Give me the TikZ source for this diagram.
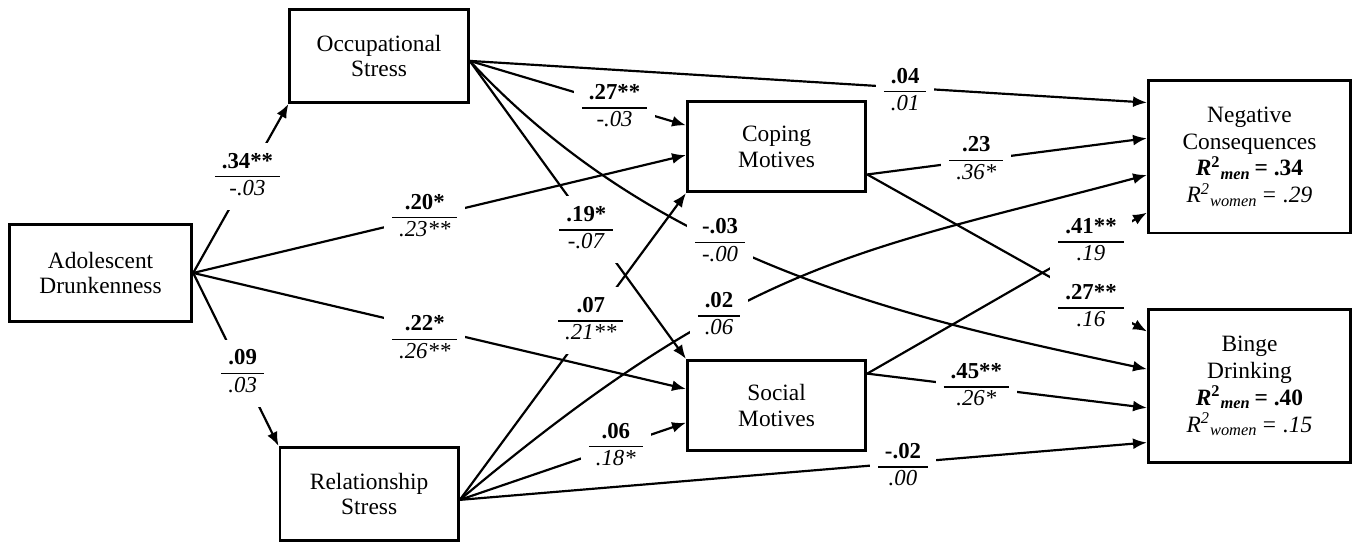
\documentclass[tikz,border=0pt]{standalone}
\usepackage{fontspec}
\setmainfont{Liberation Serif}
\usetikzlibrary{positioning,arrows.meta}
\setlength{\arrayrulewidth}{0.75pt}
\tikzstyle{var}=[draw,rectangle,line width=1.4pt,minimum width=90pt,minimum height=47pt,
  align=center,font=\fontsize{11.8}{13}\selectfont]
\tikzstyle{outcome}=[var,minimum width=102pt,minimum height=77pt,font=\fontsize{11.8}{13.5}\selectfont]
\tikzstyle{coef}=[fill=white,inner xsep=4pt,inner ysep=3.5pt,font=\fontsize{11.5}{13}\selectfont]
\newcommand{\coef}[2]{\begin{tabular}{@{\hspace{3.5pt}}c@{\hspace{3.5pt}}}\textbf{#1}\\\hline\textit{#2}\end{tabular}}
\newcommand{\newVar}[4]{\node[#3](#1)[#4]{#2};}
\newcommand{\newPath}[6]{\draw[->] (#1) to[#6] node[coef,#5] {\coef{#3}{#4}} (#2);}
\newcommand{\rsq}[2]{\textit{R}\textsuperscript{2}\textsubscript{\textit{#1}}\,= #2}

\begin{document}
\begin{tikzpicture}[>={Latex[length=7pt,width=5.5pt]},
    line width=1.1pt
    ]
    % variables
    \newVar{AD}{Adolescent\\Drunkenness}{var,minimum width=92pt,minimum height=49pt}{}
    \newVar{OS}{Occupational\\Stress}{var}{above right=60pt and 48pt of AD}
    \newVar{RS}{Relationship\\Stress}{var}{below right=62pt and 43pt of AD}
    \newVar{CM}{Coping\\Motives}{var,minimum height=45.5pt}{right=109pt of OS,yshift=-45.75pt}
    \newVar{SM}{Social\\Motives}{var,minimum height=45.5pt}{below=83.5pt of CM}
    \newVar{NC}{Negative\\Consequences\\\textbf{\rsq{men}{.34}}\\\textit{\rsq{women}{.29}}}{outcome}{right=141pt of CM,yshift=-5pt}
    \newVar{BD}{Binge\\Drinking\\\textbf{\rsq{men}{.40}}\\\textit{\rsq{women}{.15}}}{outcome}{below=37.25pt of NC}
    % paths from adolescent drunkenness
    \newPath{AD.east}{OS.south west}{.34**}{-.03}{pos=.57}{}
    \newPath{AD.east}{[yshift=-4.25pt]CM.west}{.20*}{.23**}{pos=.47}{}
    \newPath{AD.east}{[yshift=8.25pt]SM.west}{.22*}{.26**}{pos=.47,yshift=-6pt}{}
    \newPath{AD.east}{RS.north west}{.09}{.03}{pos=.58}{}
    % paths from occupational stress
    \newPath{[yshift=-2.5pt]OS.east}{[yshift=10.75pt]CM.west}{.27**}{-.03}{pos=.67,yshift=-2pt}{}
    \newPath{[yshift=-2.5pt]OS.east}{[yshift=27.25pt]NC.west}{.04}{.01}{pos=.643,yshift=-2pt}{}
    \newPath{[yshift=-2.5pt]OS.east}{SM.north west}{.19*}{-.07}{pos=.567,xshift=-3pt}{}
    \newPath{[yshift=-2.5pt]OS.east}{[yshift=8.5pt]BD.west}{-.03}{-.00}{pos=.4}{out=-47,in=168,out distance=140pt,in distance=125pt}
    % paths from relationship stress
    \newPath{[yshift=-3pt]RS.east}{CM.south west}{.07}{.21**}{pos=.597,xshift=-2pt,yshift=-2pt}{}
    \newPath{[yshift=-3pt]RS.east}{[yshift=-8.75pt]SM.west}{.06}{.18*}{pos=.69}{}
    \newPath{[yshift=-3pt]RS.east}{[yshift=-9.25pt]NC.west}{.02}{.06}{pos=.36}{out=40,in=-165,out distance=190pt,in distance=150pt}
    \newPath{[yshift=-3pt]RS.east}{[yshift=-28.5pt]BD.west}{-.02}{.00}{pos=.645,yshift=-2pt}{}
    % paths from motives
    \newPath{[yshift=16pt]SM.east}{[yshift=-28.25pt]NC.west}{.41**}{.19}{pos=.80,yshift=1.5pt}{}
    \newPath{[yshift=-14pt]CM.east}{[yshift=9.25pt]NC.west}{.23}{.36*}{pos=.39}{}
    \newPath{[yshift=-14pt]CM.east}{[yshift=27.5pt]BD.west}{.27**}{.16}{pos=.80,yshift=-4pt}{}
    \newPath{[yshift=16pt]SM.east}{[yshift=-11pt]BD.west}{.45**}{.26*}{pos=.39}{}
    % margins
    \path ([xshift=-4pt]AD.west |- OS.north) ++(0,4pt) coordinate (tl);
    \path (NC.east |- RS.south) ++(2pt,-1pt) coordinate (br);
    \path (tl) rectangle (br);
  \end{tikzpicture}
\end{document}
